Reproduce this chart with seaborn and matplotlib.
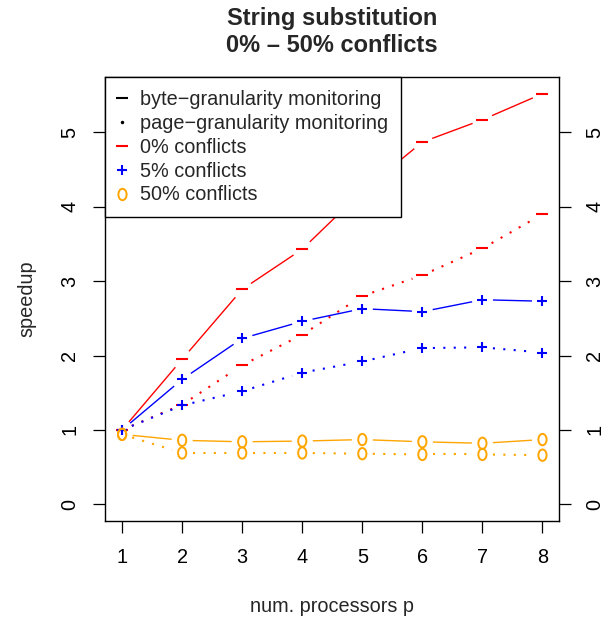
import numpy as np
import pandas as pd
import matplotlib
matplotlib.use("Agg")
import matplotlib.pyplot as plt
import seaborn as sns
from matplotlib.lines import Line2D
from matplotlib.path import Path
from matplotlib.transforms import Affine2D

# ---------------- data ----------------
procs = [1, 2, 3, 4, 5, 6, 7, 8]
byte_0 = [1.00, 1.95, 2.89, 3.43, 4.21, 4.87, 5.17, 5.52]
page_0 = [1.00, 1.34, 1.87, 2.28, 2.80, 3.08, 3.44, 3.90]
byte_5 = [1.00, 1.68, 2.23, 2.46, 2.63, 2.59, 2.75, 2.73]
page_5 = [1.00, 1.33, 1.52, 1.77, 1.92, 2.10, 2.11, 2.04]
byte_50 = [0.94, 0.86, 0.84, 0.85, 0.87, 0.84, 0.82, 0.87]
page_50 = [0.94, 0.69, 0.69, 0.69, 0.68, 0.67, 0.67, 0.66]

legend_labels = ["byte\u2212granularity monitoring", "page\u2212granularity monitoring",
                 "0% conflicts", "5% conflicts", "50% conflicts"]
title_lines = ["String substitution", "0% \u2013 50% conflicts"]
xlabel = "num. processors p"
ylabel = "speedup"
yticks = [0, 1, 2, 3, 4, 5]

RED, BLUE, ORANGE = "#FF0000", "#0000FF", "#FFA500"

sns.set_style("white")
plt.rcParams["font.family"] = ["Liberation Sans", "DejaVu Sans"]

W, H = 611, 619
fig = plt.figure(figsize=(W / 100, H / 100), dpi=100)
L, R, B, T = 105.3, 559.3, 520.7, 77.3
ax = fig.add_axes([L / W, 1 - B / H, (R - L) / W, (B - T) / H])

ymax = max(byte_0)
xpad = 0.04 * (max(procs) - min(procs))
XLIM = (min(procs) - xpad, max(procs) + xpad)
YLIM = (-0.04 * ymax, ymax * 1.04)
ax.set_xlim(*XLIM)
ax.set_ylim(*YLIM)
ax.set_autoscale_on(False)

ell = Path.unit_circle().transformed(Affine2D().scale(0.72, 1.0))


def gapped_segments(xs, ys, gap_px=10.5):
    pts = ax.transData.transform(np.column_stack([xs, ys]))
    inv = ax.transData.inverted()
    segs = []
    for i in range(len(pts) - 1):
        p0, p1 = pts[i], pts[i + 1]
        d = p1 - p0
        Ln = np.hypot(*d)
        if Ln <= 2 * gap_px:
            continue
        a = p0 + d / Ln * gap_px
        b = p1 - d / Ln * gap_px
        segs.append(inv.transform([a, b]))
    return segs


series = [
    (byte_0, RED, "-", "_"),
    (page_0, RED, ":", "_"),
    (byte_5, BLUE, "-", "+"),
    (page_5, BLUE, ":", "+"),
    (byte_50, ORANGE, "-", "o"),
    (page_50, ORANGE, ":", "o"),
]

# compute all gapped segments with fixed limits first
all_segs = [gapped_segments(procs, s[0]) for s in series]

dot_style = (0, (1, 4.0))
for (ys, col, ls, mk), segs in zip(series, all_segs):
    for sg in segs:
        if ls == "-":
            ax.plot(sg[:, 0], sg[:, 1], color=col, lw=1.0, solid_capstyle="butt")
        else:
            ax.plot(sg[:, 0], sg[:, 1], color=col, lw=1.5, linestyle=dot_style,
                    dash_capstyle="butt")
    pdf = pd.DataFrame({"p": procs, "v": ys})
    if mk == "_":
        sns.scatterplot(data=pdf, x="p", y="v", ax=ax, marker="_", s=8.0 ** 2,
                        color=col, edgecolor=col, linewidth=1.5, zorder=5)
    elif mk == "+":
        sns.scatterplot(data=pdf, x="p", y="v", ax=ax, marker="+", s=7.8 ** 2,
                        color=col, edgecolor=col, linewidth=1.5, zorder=5)
    else:
        sns.scatterplot(data=pdf, x="p", y="v", ax=ax, marker=ell, s=8.2 ** 2,
                        facecolor="none", edgecolor=col, linewidth=1.4, zorder=5)

ax.set_xlim(*XLIM)
ax.set_ylim(*YLIM)
ax.set_xlabel("")
ax.set_ylabel("")
ax.set_xticks(procs)
ax.set_xticklabels([str(p) for p in procs])
ax.set_yticks(yticks)
ax.set_yticklabels([str(v) for v in yticks])
for s in ax.spines.values():
    s.set_visible(True)
    s.set_color("black")
    s.set_linewidth(1.0)
ax.tick_params(axis="both", direction="out", length=8.6, width=0.9, color="black",
               labelsize=14.3, labelcolor="black")
ax.tick_params(axis="x", pad=11, bottom=True)
ax.tick_params(axis="y", pad=10, left=True, right=True, labelright=True,
               labelrotation=90)
for lab in ax.get_yticklabels(which="both"):
    lab.set_va("center")

handles = [
    Line2D([], [], color="black", marker="_", ls="none", markersize=8, mew=1.5),
    Line2D([], [], color="black", marker=".", ls="none", markersize=3),
    Line2D([], [], color=RED, marker="_", ls="none", markersize=8, mew=1.5),
    Line2D([], [], color=BLUE, marker="+", ls="none", markersize=7.8, mew=1.5),
    Line2D([], [], color=ORANGE, marker=ell, ls="none", markersize=8.2, mew=1.4,
           markerfacecolor="none"),
]
leg = ax.legend(handles, legend_labels, loc="upper left", bbox_to_anchor=(0, 1),
                borderaxespad=0, fontsize=14.3, frameon=True, fancybox=False,
                framealpha=1, edgecolor="black", handlelength=0.4, handletextpad=0.75,
                labelspacing=0.25, borderpad=0.62)
leg.get_frame().set_linewidth(1.0)

cx = (L + R) / 2 / W
fig.text(cx, 1 - 18 / H, title_lines[0], ha="center", va="center", fontsize=17,
         fontweight="bold")
fig.text(cx, 1 - 46 / H, title_lines[1], ha="center", va="center", fontsize=17,
         fontweight="bold")
fig.text(cx, 1 - 606 / H, xlabel, ha="center", va="center", fontsize=14.3)
fig.text(27 / W, 1 - ((T + B) / 2) / H, ylabel, ha="center", va="center",
         fontsize=14.3, rotation=90)

fig.savefig("out.png", dpi=100)
